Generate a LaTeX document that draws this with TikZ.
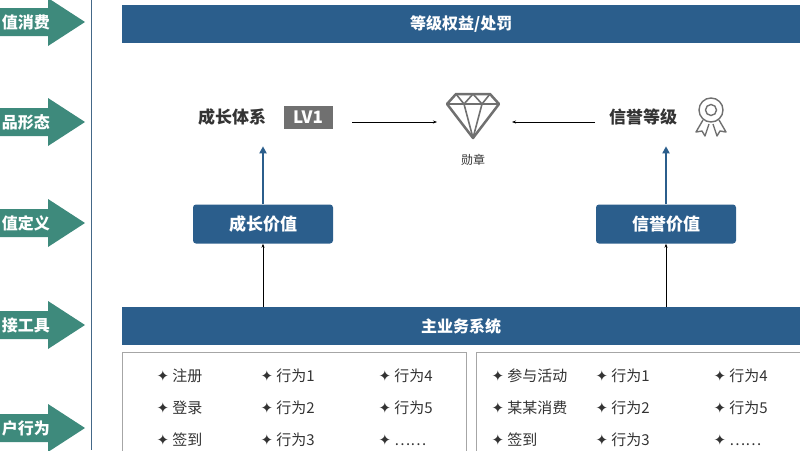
\documentclass[tikz,border=0pt]{standalone}
\usepackage{fontspec}
\setmainfont{Noto Sans CJK SC}
\newfontfamily\symf{DejaVu Sans}
\usetikzlibrary{arrows.meta,shapes.arrows}
\definecolor{barblue}{HTML}{2B5E8C}
\definecolor{teal}{HTML}{3E8A7C}
\definecolor{icong}{HTML}{707070}
\begin{document}
\begin{tikzpicture}[x=1pt,y=-1pt,
 bar/.style={fill=barblue,text=white,font=\bfseries\fontsize{16}{18}\selectfont},
 valbox/.style={fill=barblue,text=white,rounded corners=3pt,minimum width=140pt,minimum height=39pt,font=\bfseries\fontsize{17}{19}\selectfont},
 lbl/.style={font=\bfseries\fontsize{17}{19}\selectfont,text=black!80},
 item/.style={anchor=west,font=\fontsize{15}{17}\selectfont,text=black!80},
 thin/.style={-{Stealth[length=4pt]},black,line width=0.6pt},
 thick/.style={-{Triangle[length=7pt,width=7pt]},barblue,line width=2.2pt}]
\useasboundingbox (0,0) rectangle (800,450);
% side arrows
\foreach \yy/\t [count=\i] in {22/值消费,122/品形态,223/值定义,325/接工具,428/户行为}{
 \fill[teal] (-5,\yy-14) -- (48,\yy-14) -- (48,\yy-24) -- (85,\yy) -- (48,\yy+24) -- (48,\yy+14) -- (-5,\yy+14) -- cycle;
 \node[text=white,font=\bfseries\fontsize{16}{18}\selectfont,anchor=east,inner sep=0] (s\i) at (50,\yy) {\t};
}
\draw[barblue!70!gray,line width=1pt] (91,0) -- (91,450);
% bars
\node[bar,minimum width=678pt,minimum height=38pt,anchor=north west] (top) at (122,5) {等级权益/处罚};
\node[bar,minimum width=678pt,minimum height=38pt,anchor=north west] (main) at (122,307) {主业务系统};
% middle
\node[lbl] (grow) at (232,117) {成长体系};
\node[draw=icong,fill=icong,line width=1pt,inner sep=1pt,text=white,font=\bfseries\fontsize{17}{17}\selectfont,minimum width=48pt,minimum height=22pt] (lv) at (308,117) {LV1};
\draw[icong,line width=2.5pt,line join=round] (447,104) -- (456,94) -- (490,94) -- (499,104) -- (473,138) -- cycle;
\draw[icong,line width=1.6pt,line join=round] (447,104) -- (499,104) (456,94) -- (464,104) -- (473,94) -- (482,104) -- (490,94) (464,104) -- (473,138) -- (482,104);
\node[font=\fontsize{12}{14}\selectfont,text=black!80] (badge) at (473,160) {勋章};
\node[lbl] (cred) at (643,117) {信誉等级};
\node[draw=icong,circle,line width=1.4pt,minimum size=24pt,inner sep=0] (aw) at (711,110) {};
\node[draw=icong,circle,line width=1.4pt,minimum size=11pt,inner sep=0] at (aw) {};
\draw[icong,line width=1.4pt,line join=round] (703,120) -- (696,132) -- (702,131) -- (705,136) -- (709,124);
\draw[icong,line width=1.4pt,line join=round] (719,120) -- (726,132) -- (720,131) -- (717,136) -- (713,124);
\draw[thin] (352,122) -- (437,122);
\draw[thin] (595,122) -- (512,122);
% value boxes
\node[valbox] (gv) at (263,224) {成长价值};
\node[valbox] (cv) at (666,224) {信誉价值};
\draw[thick] (gv.north) -- ++(0,-58);
\draw[thick] (cv.north) -- ++(0,-58);
\draw[thin] (main.north -| gv) -- (gv.south);
\draw[thin] (main.north -| cv) -- (cv.south);
% lower boxes
\draw[gray!70,line width=0.8pt] (122,352) rectangle (466,460);
\draw[gray!70,line width=0.8pt] (476,352) rectangle (805,460);
\foreach \x/\y/\t in {153/376/注册,153/408/登录,153/440/签到,257/376/行为1,257/408/行为2,257/440/行为3,375/376/行为4,375/408/行为5,375/440/……,
 488/376/参与活动,488/408/某某消费,488/440/签到,592/376/行为1,592/408/行为2,592/440/行为3,710/376/行为4,710/408/行为5,710/440/……}
 \node[item] at (\x,\y) {{\symf ✦} \t};
\end{tikzpicture}
\end{document}
